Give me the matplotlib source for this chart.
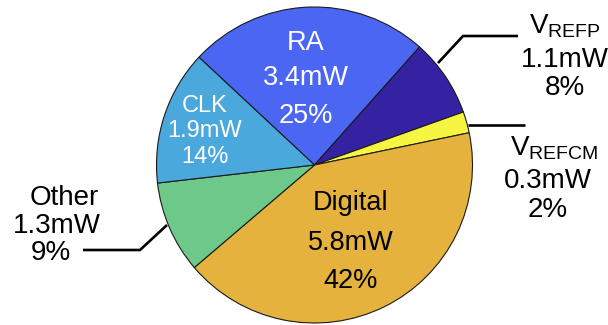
import matplotlib
matplotlib.use("Agg")
import matplotlib.pyplot as plt

plt.rcParams["font.family"] = ["Liberation Sans", "DejaVu Sans"]
plt.rcParams["mathtext.fontset"] = "custom"
plt.rcParams["mathtext.rm"] = "Liberation Sans"
plt.rcParams["mathtext.it"] = "Liberation Sans:italic"

# Power breakdown (mW), clockwise from the RA block
names = ["RA", "VREFP", "VREFCM", "Digital", "Other", "CLK"]
power_mw = [3.4, 1.1, 0.3, 5.8, 1.3, 1.9]
percent = [25, 8, 2, 42, 9, 14]
colors = ["#4A66F2", "#3522A3", "#F5F542", "#E5B23E", "#6CC98A", "#4AA8DC"]

W, H = 608, 325
fig = plt.figure(figsize=(W / 100, H / 100), dpi=100)
ax = fig.add_axes([0, 0, 1, 1])

cx, cy, r = 314.5, H - 165, 158
ax.pie(power_mw, colors=colors, startangle=137, counterclock=False,
       center=(cx, cy), radius=r,
       wedgeprops=dict(edgecolor="#1a1a1a", linewidth=0.8))
ax.set_xlim(0, W)
ax.set_ylim(0, H)
ax.set_aspect("equal")
ax.axis("off")


def y(v):
    return H - v


def mw(i):
    return f"{power_mw[i]}mW"


def pc(i):
    return f"{percent[i]}%"


def stack(x, baselines, lines, size, color):
    for b, t in zip(baselines, lines):
        ax.text(x, y(b), t, ha="center", va="baseline", fontsize=size, color=color)


# Labels inside the slices
stack(306, [50, 85, 123], [names[0], mw(0), pc(0)], 19.5, "white")
stack(205, [112, 137, 163], [names[5], mw(5), pc(5)], 17, "white")
stack(351, [210, 250, 288], [names[3], mw(3), pc(3)], 19.5, "black")

# Labels outside the pie with leader lines
fs = 20
lw = 1.9
ax.plot([438, 463, 518], [y(63), y(36), y(36)], color="black", lw=lw,
        solid_capstyle="butt", solid_joinstyle="miter")
ax.text(565, y(33), r"V$_{\mathrm{REFP}}$", ha="center", va="baseline", fontsize=fs)
stack(565, [67, 95], [mw(1), pc(1)], fs, "black")

ax.plot([468, 525], [y(125), y(125)], color="black", lw=lw, solid_capstyle="butt")
ax.text(554, y(155), r"V$_{\mathrm{REFCM}}$", ha="center", va="baseline", fontsize=fs)
stack(548, [188, 217], [mw(2), pc(2)], fs, "black")

ax.plot([167, 140, 83], [y(225), y(250), y(250)], color="black", lw=lw,
        solid_capstyle="butt", solid_joinstyle="miter")
ax.text(64, y(205), names[4], ha="center", va="baseline", fontsize=fs)
ax.text(57, y(233), mw(4), ha="center", va="baseline", fontsize=fs)
ax.text(51, y(260), pc(4), ha="center", va="baseline", fontsize=fs)

fig.savefig("out.png", dpi=100)
